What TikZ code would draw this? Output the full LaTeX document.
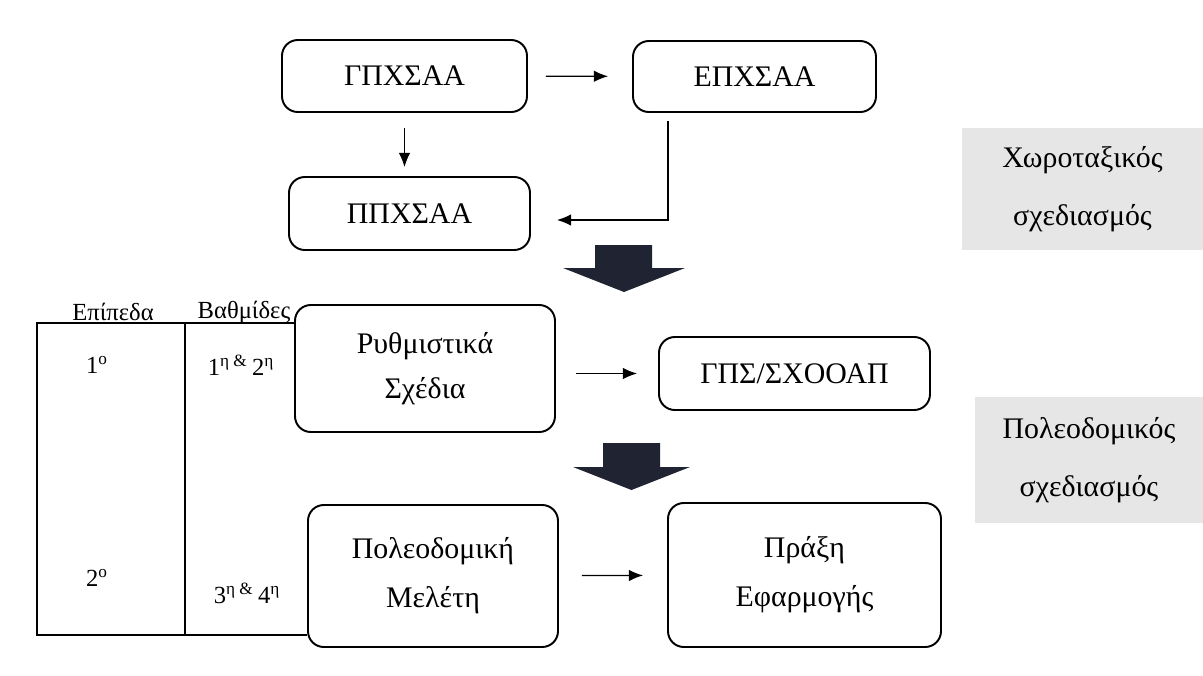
\documentclass[tikz,border=0pt]{standalone}
\usepackage{fontspec}
\setmainfont{Liberation Serif}
\usetikzlibrary{arrows.meta}
\usetikzlibrary{calc}

\definecolor{arrowdark}{RGB}{31,35,50}
\definecolor{groupgrey}{RGB}{230,230,230}

\begin{document}
\begin{tikzpicture}[auto,
        node_style/.style={rectangle,rounded corners=9pt,draw=black,line width=1.1pt,align=center,inner sep=0pt,font=\fontsize{17}{26}\selectfont},
        label_style/.style={inner sep=0pt,font=\fontsize{14}{16}\selectfont},
        group_style/.style={rectangle,fill=groupgrey,align=center,inner sep=0pt,font=\fontsize{17}{33}\selectfont},
        edge_style/.style={draw=black, line width=0.7pt, -{Latex[length=8pt,width=6.5pt]}},
        table_style/.style={draw=black, line width=0.8pt},
        big_arrow_style/.style={fill=arrowdark}]

        \useasboundingbox (0,0) rectangle (24.06,-13.5);

        \node [node_style,minimum width=4.9cm,minimum height=1.44cm](n1) at (8.09,-1.52) {ΓΠΧΣΑΑ};

        \node [node_style,minimum width=4.86cm,minimum height=1.42cm](n2) at (15.09,-1.53) {ΕΠΧΣΑΑ};

        \node [node_style,minimum width=4.82cm,minimum height=1.46cm](n3) at (8.19,-4.27) {ΠΠΧΣΑΑ};

        \node [node_style,minimum width=5.2cm,minimum height=2.54cm](n4) at (8.5,-7.37) {Ρυθμιστικά\\Σχέδια};

        \node [node_style,minimum width=5.42cm,minimum height=1.46cm](n5) at (15.89,-7.47) {ΓΠΣ/ΣΧΟΟΑΠ};

        \node [node_style,minimum width=5.0cm,minimum height=2.84cm](n6) at (8.66,-11.52) {Πολεοδομική\\[2pt]Μελέτη};

        \node [node_style,minimum width=5.46cm,minimum height=2.88cm](n7) at (16.09,-11.5) {Πράξη\\[2pt]Εφαρμογής};

        \node [group_style,minimum width=4.82cm,minimum height=2.44cm](g1) at (21.65,-3.78) {Χωροταξικός\\σχεδιασμός};

        \node [group_style,minimum width=4.56cm,minimum height=2.52cm](g2) at (21.78,-9.2) {Πολεοδομικός\\σχεδιασμός};

        \draw [edge_style, shorten <=0.36cm, shorten >=0.48cm] (n1) -- (n2);

        \draw [edge_style, shorten <=0.3cm, shorten >=0.18cm] (n1.south) -- (n1.south |- n3.north);

        \draw [edge_style] ([xshift=0.72cm,yshift=-0.16cm]n2.south west) |- ([xshift=0.52cm,yshift=-0.13cm]n3.east);

        \draw [edge_style, shorten <=0.4cm, shorten >=0.42cm] (n4.east |- n5.west) -- (n5.west);

        \draw [edge_style, shorten <=0.46cm, shorten >=0.48cm] (n6) -- (n7);

        % big arrows between the levels
        \fill [big_arrow_style] (11.9,-4.9) -- (13.04,-4.9) -- (13.04,-5.36) -- (13.7,-5.36) -- (12.48,-5.84) -- (11.26,-5.36) -- (11.9,-5.36) -- cycle;

        \fill [big_arrow_style] (12.06,-8.86) -- (13.2,-8.86) -- (13.2,-9.34) -- (13.8,-9.34) -- (12.63,-9.8) -- (11.46,-9.34) -- (12.06,-9.34) -- cycle;

        % table of levels
        \draw [table_style] (n4.west |- 0,-6.46) -- (0.74,-6.46) -- (0.74,-12.7) -- (n6.west |- 0,-12.7);

        \draw [table_style] (3.7,-6.46) -- (3.7,-12.7);

        \node [label_style](l1) at (2.26,-6.24) {Επίπεδα};

        \node [label_style](l2) at (4.88,-6.24) {Βαθμίδες};

        \node [label_style](l3) at (1.94,-7.3) {1\textsuperscript{ο}};

        \node [label_style](l4) at (4.82,-7.3) {1\textsuperscript{η \& }2\textsuperscript{η}};

        \node [label_style](l5) at (1.94,-11.56) {2\textsuperscript{ο}};

        \node [label_style](l6) at (4.94,-11.86) {3\textsuperscript{η \& }4\textsuperscript{η}};

        \end{tikzpicture}
\end{document}
